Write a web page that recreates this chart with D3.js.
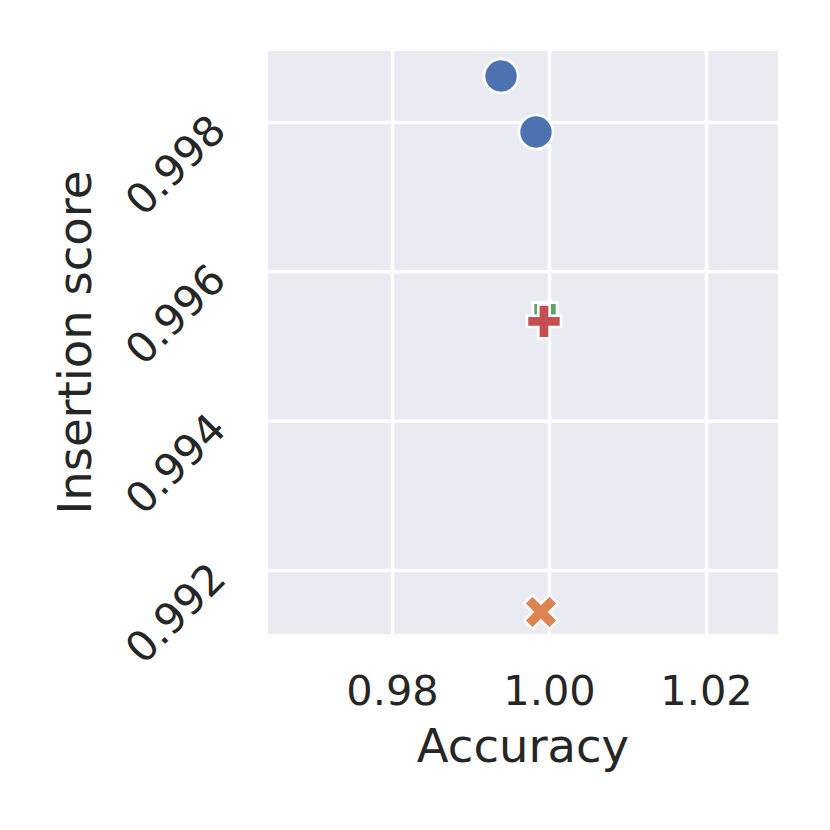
<!DOCTYPE html>
<html>
<head>
<meta charset="utf-8">
<script src="https://cdn.jsdelivr.net/npm/d3@7"></script>
<style>
html,body{margin:0;padding:0;background:#fff;}
svg{display:block;}
</style>
</head>
<body>
<svg id="chart" width="830" height="830"></svg>
<script>
// ---- data ----
const groups = ["A", "A", "C", "D", "B"];          // hue / style group per point
const accuracy = [0.99389, 0.99834, 0.99949, 0.99936, 0.99898];
const insertion = [0.998616, 0.997866, 0.995420, 0.995330, 0.991438];
const groupOrder = ["A", "B", "C", "D"];
const groupColors = ["#4C72B0", "#DD8452", "#55A868", "#C44E52"];
const groupMarkers = ["circle", "x", "square", "plus"];
const xTicks = [0.98, 1.00, 1.02];
const yTicks = [0.992, 0.994, 0.996, 0.998];
const xDomain = [0.964204, 1.029172];
const yDomain = [0.991143, 0.998951];

// ---- layout ----
const svg = d3.select("#chart");
const L = 268, R = 778, T = 51, B = 634;
const x = d3.scaleLinear().domain(xDomain).range([L, R]);
const y = d3.scaleLinear().domain(yDomain).range([B, T]);
const textColor = "#262626";
const font = "DejaVu Sans, sans-serif";

svg.append("rect").attr("x", L).attr("y", T).attr("width", R - L).attr("height", B - T)
  .attr("fill", "#EAEAF2");

// grid
const xAxis = d3.axisBottom(x).tickValues(xTicks).tickFormat(d3.format(".2f")).tickSize(-(B - T));
const gx = svg.append("g").attr("transform", `translate(0,${B})`).call(xAxis);
gx.select(".domain").remove();
gx.selectAll("line").attr("stroke", "#fff").attr("stroke-width", 3.5);
gx.selectAll("text").attr("fill", textColor).style("font-family", font).style("font-size", "41.5px")
  .attr("dy", null).attr("y", 71);

const yAxis = d3.axisLeft(y).tickValues(yTicks).tickFormat(d3.format(".3f")).tickSize(-(R - L));
const gy = svg.append("g").attr("transform", `translate(${L},0)`).call(yAxis);
gy.select(".domain").remove();
gy.selectAll("line").attr("stroke", "#fff").attr("stroke-width", 3.5);
gy.selectAll("text").attr("fill", textColor).style("font-family", font).style("font-size", "42px")
  .attr("x", null).attr("dy", null)
  .attr("text-anchor", "end").attr("dominant-baseline", "central")
  .attr("transform", "translate(-50,0) rotate(-45)");

// axis labels
svg.append("text").attr("x", (L + R) / 2).attr("y", 762).attr("text-anchor", "middle")
  .attr("fill", textColor).style("font-family", font).style("font-size", "46.5px").text("Accuracy");
svg.append("text").attr("transform", `translate(91,${(T + B) / 2}) rotate(-90)`).attr("text-anchor", "middle")
  .attr("fill", textColor).style("font-family", font).style("font-size", "46.5px").text("Insertion score");

// markers
const S = 34;  // marker size (px)
function markerPath(kind) {
  const h = S / 2;
  if (kind === "circle") return d3.symbol().type(d3.symbolCircle).size(Math.PI * h * h)();
  if (kind === "square") {
    const a = h / Math.SQRT2;
    return `M${-a},${-a}L${a},${-a}L${a},${a}L${-a},${a}Z`;
  }
  if (kind === "plus") {
    const pts = [[-1,-3],[1,-3],[1,-1],[3,-1],[3,1],[1,1],[1,3],[-1,3],[-1,1],[-3,1],[-3,-1],[-1,-1]];
    return "M" + pts.map(p => `${p[0]*S/6},${p[1]*S/6}`).join("L") + "Z";
  }
  if (kind === "x") {
    const pts = [[0.25,0],[0.5,0.25],[0.75,0],[1,0.25],[0.75,0.5],[1,0.75],[0.75,1],[0.5,0.75],[0.25,1],[0,0.75],[0.25,0.5],[0,0.25]];
    return "M" + pts.map(p => `${(p[0]-0.5)*S},${(p[1]-0.5)*S}`).join("L") + "Z";
  }
}
const color = d3.scaleOrdinal().domain(groupOrder).range(groupColors);
const shape = d3.scaleOrdinal().domain(groupOrder).range(groupMarkers);

svg.append("g").selectAll("path").data(accuracy.map((a, i) => ({a, s: insertion[i], g: groups[i]})))
  .join("path")
  .attr("transform", d => `translate(${x(d.a)},${y(d.s)})`)
  .attr("d", d => markerPath(shape(d.g)))
  .attr("fill", d => color(d.g))
  .attr("stroke", "#fff").attr("stroke-width", 2.6).attr("stroke-linejoin", "miter");
</script>
</body>
</html>
